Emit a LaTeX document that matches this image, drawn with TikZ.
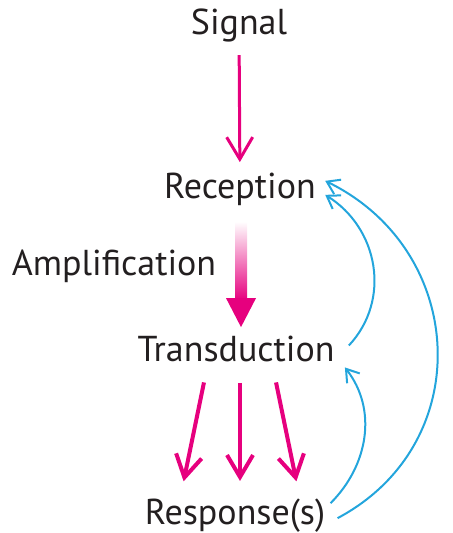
\documentclass[tikz,border=0pt]{standalone}
\usepackage{fontspec}
\setmainfont{PT Sans}
\usetikzlibrary{arrows.meta}
\definecolor{sigpink}{RGB}{230,0,126}
\definecolor{loopblue}{RGB}{35,165,220}
\definecolor{labeltext}{RGB}{35,31,32}

\begin{document}
\begin{tikzpicture}[x=0.5pt,y=0.5pt,
  stage/.style={anchor=base, inner sep=0pt, text=labeltext, font=\fontsize{18}{20}\selectfont},
  pinkarrow/.style={draw=sigpink, line width=2pt, -{Straight Barb[length=11pt,width=13pt]}},
  feedback/.style={draw=loopblue, line width=1pt, -{Straight Barb[length=6pt,width=8pt]}}]
%\draw[help lines] (0,0) grid[step=20] (452,533);
\useasboundingbox (0,0) rectangle (452,533);

 \node[stage] (signal) at (239,498) {Signal};
 \node[stage] (reception) at (240,334) {Reception};
 \node[stage] (amplification) at (114,257) {Amplification};
 \node[stage] (transduction) at (236,171) {Transduction};
 \node[stage] (response) at (235,8) {Response(s)};

 % signal to reception
 \draw[pinkarrow, line width=1.5pt, shorten <=6pt, shorten >=5.5pt] (signal) -- (reception);

 % amplification
 \shade[top color=white, middle color=sigpink!45, bottom color=sigpink]
   ([xshift=-2.5pt,yshift=-7.5pt]reception.south) rectangle ([xshift=5.5pt,yshift=18pt]transduction.north);
 \fill[sigpink] ([xshift=-5pt,yshift=19pt]transduction.north) -- ([xshift=10pt,yshift=19pt]transduction.north)
   -- ([xshift=2.5pt,yshift=4.5pt]transduction.north) -- cycle;

 % transduction to responses
 \draw[pinkarrow, shorten <=10pt, shorten >=9pt] ([xshift=-14pt]transduction.south) -- ([xshift=-27.5pt]response.north);
 \draw[pinkarrow, shorten <=10pt, shorten >=9pt] ([xshift=2pt]transduction.south) -- ([xshift=2.5pt]response.north);
 \draw[pinkarrow, shorten <=10pt, shorten >=9pt] ([xshift=18pt]transduction.south) -- ([xshift=32.5pt]response.north);

 % feedback
 \draw[feedback] ([xshift=7pt,yshift=2pt]transduction.east) to[out=47, in=-32, looseness=1.05]
   ([xshift=4.5pt,yshift=-2.5pt]reception.east);
 \draw[feedback] ([xshift=2.5pt,yshift=6.5pt]response.east) to[out=45, in=-52]
   ([xshift=5pt,yshift=-9pt]transduction.east);
 \draw[feedback] ([xshift=6pt,yshift=-1pt]response.east) to[out=28, in=-26, looseness=1.2]
   ([xshift=4.5pt,yshift=4.5pt]reception.east);

\end{tikzpicture}
\end{document}
